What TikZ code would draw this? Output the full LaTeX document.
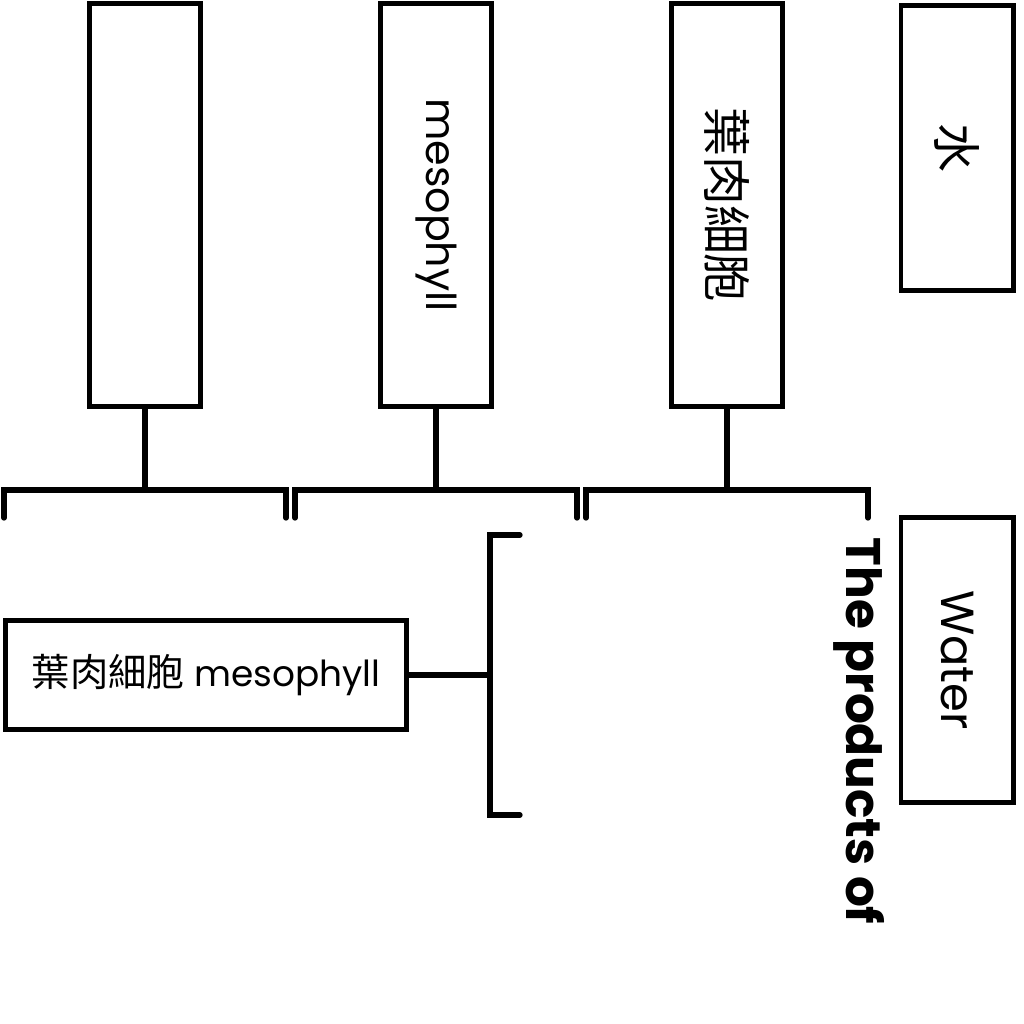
\documentclass[tikz,border=0pt]{standalone}
\usepackage{fontspec}
\setmainfont{Poppins}
\newfontfamily\cjk{Noto Sans CJK TC}
\usetikzlibrary{
	positioning				% relative placement
	, calc					% shifted corner points
}

\begin{document}
\begin{tikzpicture}[
			x=0.01cm, y=-0.01cm,
			element/.style={
				rectangle,
				draw=black, line width=1.4pt,
				inner sep=0,
				text centered
			},
			column/.style={
				element,
				minimum width=1.11cm,
				minimum height=4.02cm
			},
			tall/.style={
				element,
				minimum width=1.12cm,
				minimum height=2.85cm
			},
			link/.style={
				line width=1.5pt,
				line cap=round
			}]

			\useasboundingbox (0,0) rectangle (1024,1024);

			%%% Draw the three columns, each hanging over its own bracket
			\foreach [count=\i] \xc/\txt in {145/{}, 436/{\fontsize{11.7}{12}\selectfont mesophyll}, 727/{\cjk\fontsize{13.9}{14}\selectfont 葉肉細胞}} {
				\node [column] (col\i) at (\xc,205) {\rotatebox{-90}{\txt}};
				\coordinate (join\i) at (\xc,490);
				\draw [link] (col\i.south) -- (join\i);
				\draw [link] ($(join\i)+(-141,28)$) -- ++(0,-28) -- ++(282,0) -- ++(0,28);
			};

			\node [tall] (water) at (957,148) {\rotatebox{-90}{\cjk\fontsize{13.9}{14}\selectfont 水}};
			\node [tall] (waterEn) at (957,660) {\rotatebox{-90}{\fontsize{13.2}{14}\selectfont Water}};

			\node [element, minimum width=4.015cm, minimum height=1.09cm] (cell) at (206,675) {{\cjk\fontsize{10.9}{12}\selectfont 葉肉細胞} {\fontsize{10.2}{12}\selectfont mesophyll}};

			%%% Side bracket
			\coordinate (fork) at (490,675);
			\draw [link] (cell.east) -- (fork);
			\draw [link] ($(fork)+(30,-140)$) -- ++(-30,0) -- ++(0,280) -- ++(30,0);

			\node [rotate=-90, anchor=base west, inner sep=0, font=\bfseries\fontsize{13.8}{14}\selectfont] (products) at (846,537) {The products of};

		\end{tikzpicture}
\end{document}
